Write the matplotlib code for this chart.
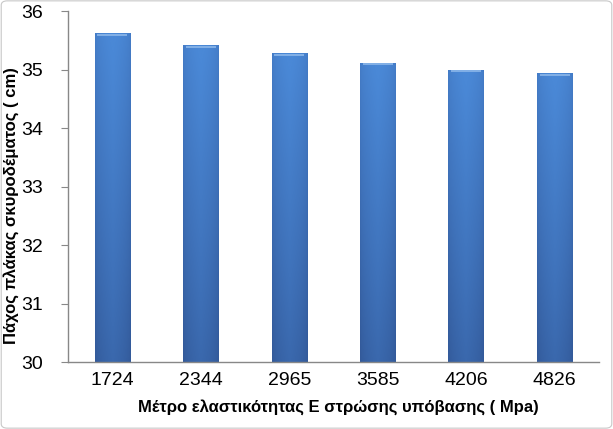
import numpy as np
import matplotlib
matplotlib.use('Agg')
import matplotlib.pyplot as plt
from matplotlib.colors import LinearSegmentedColormap
from matplotlib.patches import FancyBboxPatch

plt.rcParams['font.family'] = ['Liberation Sans', 'DejaVu Sans']

# data
categories = ['1724', '2344', '2965', '3585', '4206', '4826']
thickness = [35.62, 35.42, 35.28, 35.12, 35.00, 34.94]
y_ticks = [30, 31, 32, 33, 34, 35, 36]

xlabel = 'Μέτρο ελαστικότητας Ε στρώσης υπόβασης ( Mpa)'
ylabel = 'Πάχος πλάκας σκυροδέματος ( cm)'

fig = plt.figure(figsize=(6.13, 4.29), dpi=100)
ax = fig.add_axes([0.111, 0.156, 0.866, 0.818])

x = np.arange(len(categories))
bars = ax.bar(x, thickness, width=0.4, bottom=0, color='#4379c4', zorder=2)

# gradient fill: lighter at top and in the middle, darker at edges/bottom
cmap = LinearSegmentedColormap.from_list('blu', ['#335a9a', '#3f72ba', '#4a88d6'])
gx = np.linspace(-1, 1, 60)
gy = np.linspace(0, 1, 200)[:, None]
grad = 0.75 * gy + 0.35 * (1 - np.abs(gx))[None, :] ** 0.5 - 0.05
grad = np.clip(grad, 0, 1)
for b in bars:
    bx, bw, bh = b.get_x(), b.get_width(), b.get_height()
    im = ax.imshow(grad, cmap=cmap, vmin=0, vmax=1, origin='lower', aspect='auto',
                   extent=(bx, bx + bw, 30, bh), zorder=2.5, interpolation='bilinear')
    im.set_clip_path(b)
    # thin highlight cap at top
    ax.plot([bx + bw * 0.08, bx + bw * 0.92], [bh - 0.03, bh - 0.03],
            color='#8db8ea', lw=1.2, zorder=3, solid_capstyle='butt')

ax.set_xlim(-0.5, len(categories) - 0.5)
ax.set_ylim(30, 36)
ax.set_yticks(y_ticks)
ax.set_xticks(x)
ax.set_xticklabels(categories)
ax.tick_params(axis='y', labelsize=14, length=5, color='#888888', pad=13)
ax.tick_params(axis='x', labelsize=14, length=0, pad=7)

for s in ['top', 'right']:
    ax.spines[s].set_visible(False)
for s in ['left', 'bottom']:
    ax.spines[s].set_color('#888888')
    ax.spines[s].set_linewidth(1.0)

ax.set_xlabel(xlabel, fontsize=12, fontweight='bold', labelpad=3)
ax.set_ylabel(ylabel, fontsize=12, fontweight='bold')
ax.yaxis.set_label_coords(-0.092, 0.445)
ax.xaxis.set_label_coords(0.51, -0.105)

fig.patches.append(FancyBboxPatch((0.002, 0.002), 0.996, 0.996,
                                  boxstyle='round,pad=0,rounding_size=0.01',
                                  transform=fig.transFigure, fill=False,
                                  edgecolor='#c8c8c8', lw=0.8))

fig.savefig('out.png', dpi=100)
